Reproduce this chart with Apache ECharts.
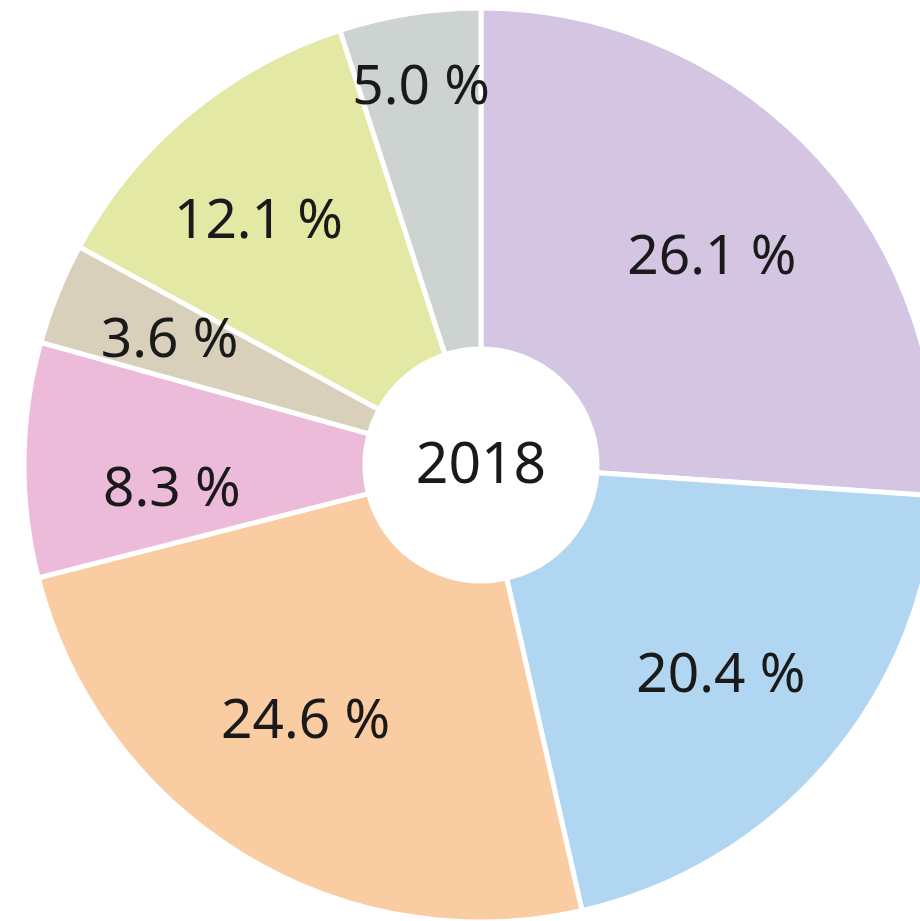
<!DOCTYPE html>
<html lang="en">
<head>
    <meta charset="UTF-8">
    <title>2018</title>
    <script src="https://cdn.jsdelivr.net/npm/echarts@6/dist/echarts.min.js"></script>
    <style>
        html, body {
            margin: 0;
            padding: 0;
            background: #fff;
        }
        #main {
            width: 920px;
            height: 921px;
        }
    </style>
</head>
<body>
<div id="main"></div>

<script>
    // slice values, clockwise from 12 o'clock
    const categories = ['A', 'B', 'C', 'D', 'E', 'F', 'G'];
    const shares = [26.1, 20.4, 24.6, 8.3, 3.6, 12.1, 5.0];
    const yearLabel = '2018';

    const sliceColors = ['#d4c5e2', '#b0d6f2', '#facca2', '#ecbbd9', '#d8d0ba', '#e4e8a5', '#cdd3d1'];
    // label placement: distance from centre (px) and angle tweak (deg)
    const labelRadius = [311, 318, 310, 310, 336, 331, 383];
    const labelTurn = [1, 0.5, 3, -5, 0, -2.5, 0];

    const cx = 481, cy = 465;

    // mid-angle of each slice (radians, clockwise from 12 o'clock)
    const total = shares.reduce((a, b) => a + b, 0);
    let acc = 0;
    const midAngles = shares.map(v => {
        const a = (acc + v / 2) / total * Math.PI * 2;
        acc += v;
        return a;
    });

    const chart = echarts.init(document.getElementById('main'));

    const option = {
        backgroundColor: '#fff',
        animation: false,
        graphic: [{
            type: 'text',
            x: cx,
            y: cy + 2,
            style: {
                text: yearLabel,
                fontFamily: 'Noto Sans',
                fontSize: 57,
                fill: '#1a1a1a',
                textAlign: 'center',
                textVerticalAlign: 'middle'
            }
        }],
        series: [{
            type: 'pie',
            center: [cx, cy],
            radius: [116, 457],
            startAngle: 90,
            clockwise: true,
            avoidLabelOverlap: false,
            itemStyle: {
                borderColor: '#fff',
                borderWidth: 5
            },
            label: {
                show: true,
                position: 'inside',
                align: 'center',
                verticalAlign: 'middle',
                fontFamily: 'Noto Sans',
                fontSize: 55,
                color: '#1a1a1a',
                formatter: p => p.value.toFixed(1) + ' %'
            },
            labelLine: { show: false },
            emphasis: { disabled: true },
            // place each label along its slice's mid-angle
            labelLayout: function (params) {
                const i = params.dataIndex;
                const R = labelRadius[i];
                const a = midAngles[i] + labelTurn[i] * Math.PI / 180;
                return {
                    x: cx + Math.sin(a) * R,
                    y: cy - Math.cos(a) * R + 2,
                    align: 'center',
                    verticalAlign: 'middle'
                };
            },
            data: categories.map((name, i) => ({
                name: name,
                value: shares[i],
                itemStyle: { color: sliceColors[i] }
            }))
        }]
    };

    chart.setOption(option);
</script>
</body>
</html>
